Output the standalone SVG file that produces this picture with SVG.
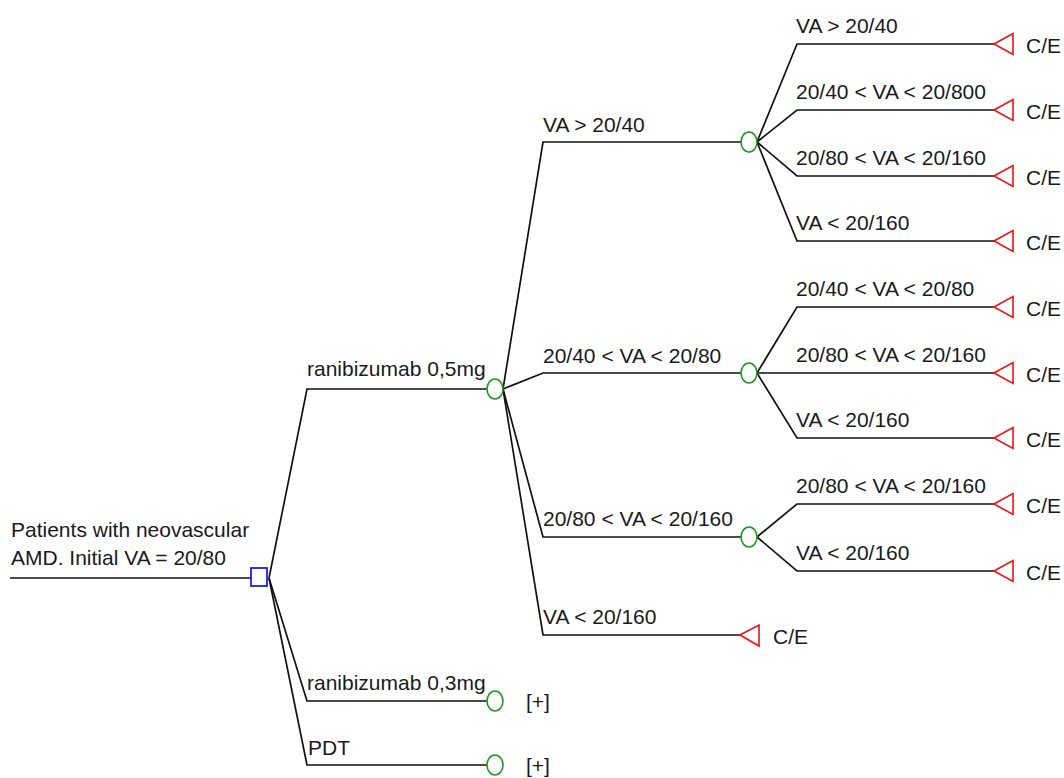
<svg xmlns="http://www.w3.org/2000/svg" width="1064" height="778" viewBox="0 0 1064 778">
  <style>
    text { font-family: "Liberation Sans", Arial, sans-serif; font-size: 21px; fill: #1a1a1a; }
    .edge { fill: none; stroke: #111; stroke-width: 1.7; }
    .decision { fill: #fff; stroke: #1010ee; stroke-width: 1.7; }
    .chance { fill: #fff; stroke: #1c9a1c; stroke-width: 1.6; }
    .terminal { fill: #fff; stroke: #ee1111; stroke-width: 1.6; }
  </style>
  <rect width="1064" height="778" fill="#fff"/>

  <!-- connectors: branch lines of the tree -->
  <g id="connectors">
    <path class="edge" d="M10,578 H251"/>
    <!-- decision node branches -->
    <path class="edge" d="M269,578 L307,389 H487"/>
    <path class="edge" d="M269,578 L307,701 H487"/>
    <path class="edge" d="M269,578 L307,765 H487"/>
    <!-- ranibizumab 0,5mg outcomes -->
    <path class="edge" d="M503,389 L543,142 H741"/>
    <path class="edge" d="M503,389 L543,373 H741"/>
    <path class="edge" d="M503,389 L543,537 H741"/>
    <path class="edge" d="M503,389 L543,635 H740"/>
    <!-- VA > 20/40 outcomes -->
    <path class="edge" d="M757,142 L797,44 H994"/>
    <path class="edge" d="M757,142 L797,110 H994"/>
    <path class="edge" d="M757,142 L797,176 H994"/>
    <path class="edge" d="M757,142 L797,241 H994"/>
    <!-- 20/40 < VA < 20/80 outcomes -->
    <path class="edge" d="M757,373 L797,307 H994"/>
    <path class="edge" d="M757,373 H994"/>
    <path class="edge" d="M757,373 L797,438 H994"/>
    <!-- 20/80 < VA < 20/160 outcomes -->
    <path class="edge" d="M757,537 L797,504 H994"/>
    <path class="edge" d="M757,537 L797,571 H994"/>
  </g>

  <!-- root -->
  <g id="root">
    <text x="11" y="537">Patients with neovascular</text>
    <text x="11" y="565">AMD. Initial VA = 20/80</text>
    <rect class="decision" x="251" y="568" width="16" height="18"/>
  </g>

  <!-- treatment arms -->
  <g id="arm-ranibizumab-05">
    <text x="307" y="376">ranibizumab 0,5mg</text>
    <ellipse class="chance" cx="495" cy="389" rx="8" ry="10"/>
  </g>
  <g id="arm-ranibizumab-03">
    <text x="307" y="690">ranibizumab 0,3mg</text>
    <ellipse class="chance" cx="495" cy="701" rx="8" ry="10"/>
    <text x="526" y="709">[+]</text>
  </g>
  <g id="arm-pdt">
    <text x="308" y="755">PDT</text>
    <ellipse class="chance" cx="495" cy="765" rx="8" ry="10"/>
    <text x="526" y="773">[+]</text>
  </g>

  <!-- first-year visual acuity states -->
  <g id="state-va-gt-40">
    <text x="543" y="132">VA &gt; 20/40</text>
    <ellipse class="chance" cx="749" cy="142" rx="8" ry="10"/>
  </g>
  <g id="state-va-40-80">
    <text x="543" y="363">20/40 &lt; VA &lt; 20/80</text>
    <ellipse class="chance" cx="749" cy="373" rx="8" ry="10"/>
  </g>
  <g id="state-va-80-160">
    <text x="543" y="526">20/80 &lt; VA &lt; 20/160</text>
    <ellipse class="chance" cx="749" cy="537" rx="8" ry="10"/>
  </g>
  <g id="state-va-lt-160">
    <text x="543" y="624">VA &lt; 20/160</text>
    <polygon class="terminal" points="740,635 759,625 759,646"/>
    <text x="773" y="644">C/E</text>
  </g>

  <!-- terminal outcomes from VA > 20/40 -->
  <g id="t1">
    <text x="796" y="33">VA &gt; 20/40</text>
    <polygon class="terminal" points="994,44 1013,33.5 1013,54.5"/>
    <text x="1026" y="53">C/E</text>
  </g>
  <g id="t2">
    <text x="796" y="99">20/40 &lt; VA &lt; 20/800</text>
    <polygon class="terminal" points="994,110 1013,99.5 1013,120.5"/>
    <text x="1026" y="119">C/E</text>
  </g>
  <g id="t3">
    <text x="796" y="165">20/80 &lt; VA &lt; 20/160</text>
    <polygon class="terminal" points="994,176 1013,165.5 1013,186.5"/>
    <text x="1026" y="185">C/E</text>
  </g>
  <g id="t4">
    <text x="796" y="230">VA &lt; 20/160</text>
    <polygon class="terminal" points="994,241 1013,230.5 1013,251.5"/>
    <text x="1026" y="250">C/E</text>
  </g>

  <!-- terminal outcomes from 20/40 < VA < 20/80 -->
  <g id="t5">
    <text x="796" y="296">20/40 &lt; VA &lt; 20/80</text>
    <polygon class="terminal" points="994,307 1013,296.5 1013,317.5"/>
    <text x="1026" y="316">C/E</text>
  </g>
  <g id="t6">
    <text x="796" y="362">20/80 &lt; VA &lt; 20/160</text>
    <polygon class="terminal" points="994,373 1013,362.5 1013,383.5"/>
    <text x="1026" y="382">C/E</text>
  </g>
  <g id="t7">
    <text x="796" y="427">VA &lt; 20/160</text>
    <polygon class="terminal" points="994,438 1013,427.5 1013,448.5"/>
    <text x="1026" y="447">C/E</text>
  </g>

  <!-- terminal outcomes from 20/80 < VA < 20/160 -->
  <g id="t8">
    <text x="796" y="493">20/80 &lt; VA &lt; 20/160</text>
    <polygon class="terminal" points="994,504 1013,493.5 1013,514.5"/>
    <text x="1026" y="513">C/E</text>
  </g>
  <g id="t9">
    <text x="796" y="560">VA &lt; 20/160</text>
    <polygon class="terminal" points="994,571 1013,560.5 1013,581.5"/>
    <text x="1026" y="580">C/E</text>
  </g>
</svg>
